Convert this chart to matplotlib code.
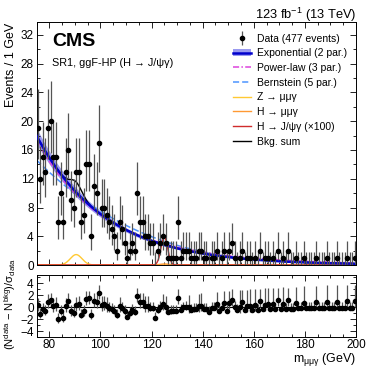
import numpy as np
import matplotlib
matplotlib.use("Agg")
import matplotlib.pyplot as plt
from matplotlib.lines import Line2D
from matplotlib.patches import Patch
from matplotlib.legend_handler import HandlerTuple
from matplotlib.ticker import MultipleLocator
from math import comb

plt.rcParams["font.family"] = ["Liberation Sans", "DejaVu Sans"]
plt.rcParams["mathtext.fontset"] = "custom"
plt.rcParams["mathtext.rm"] = "Liberation Sans"
plt.rcParams["mathtext.it"] = "Liberation Sans:italic"
plt.rcParams["mathtext.default"] = "regular"

# 1 GeV bins, 75-200 GeV
bin_edges = np.arange(75, 201, 1)
counts = [
    19, 12, 15, 13, 19, 20, 15, 15, 6, 10, 6, 13, 16, 9, 8, 13, 13, 6, 7, 14,
    14, 4, 11, 10, 17, 8, 8, 7, 6, 5, 4, 2, 6, 5, 3, 1, 2, 3, 2, 10,
    6, 6, 4, 4, 3, 3, 0, 2, 3, 4, 3, 1, 1, 1, 1, 6, 1, 2, 2, 2,
    1, 1, 1, 2, 2, 1, 1, 0, 1, 1, 2, 0, 1, 2, 0, 2, 3, 1, 0, 1,
    2, 0, 1, 1, 0, 1, 0, 2, 0, 1, 1, 0, 1, 0, 2, 0, 1, 0, 2, 0,
    0, 1, 0, 0, 1, 0, 0, 0, 0, 1, 0, 0, 0, 1, 0, 0, 0, 1, 0, 0,
    0, 1, 0, 0, 1,
]

# fitted shapes (parameters)
exp_norm, exp_slope = 18.0, 0.0372           # Exponential (2 par.)
exp_band_frac = 0.06
pow_norm, pow_shift, pow_index = 17.4, -300.0, 14.18   # Power-law (3 par.)
bern_coef = [14.6, 3.58, 0.29, 0.44, 0.2]    # Bernstein (5 par.)
z_peak = (90.5, 2.3, 1.45)                   # mean, sigma, height
h_mumug_peak = (125.0, 1.8, 0.15)
h_jpsig_peak = (125.0, 1.3, 3.9)             # x100

C_BAND = "#9a9af0"
C_EXP = "#0000cc"
C_POW = "#dd44dd"
C_BERN = "#4d94ff"
C_Z = "#ffc933"
C_HMM = "#ff9933"
C_HJ = "#d02c2c"
C_ERR = "#555555"


def expo(m):
    return exp_norm * np.exp(-exp_slope * (m - 75))


def powerlaw(m):
    return pow_norm * ((m - pow_shift) / (75 - pow_shift)) ** (-pow_index)


def bernstein(m):
    t = (m - 75) / 125.0
    n = len(bern_coef) - 1
    return sum(c * comb(n, i) * t**i * (1 - t)**(n - i) for i, c in enumerate(bern_coef))


def gauss(m, p):
    mu, s, h = p
    return h * np.exp(-0.5 * ((m - mu) / s) ** 2)


def chi2_quant(k, z):
    # Wilson-Hilferty approximation
    k = np.asarray(k, float)
    return k * (1 - 2 / (9 * k) + z * np.sqrt(2 / (9 * k))) ** 3


def poisson_err(n):
    n = np.asarray(n, float)
    up = 0.5 * chi2_quant(2 * n + 2, 1.0) - n
    lo = np.where(n > 0, n - 0.5 * chi2_quant(np.maximum(2 * n, 1e-9), -1.0), 0.0)
    return lo, up


counts = np.array(counts, float)
centers = 0.5 * (bin_edges[:-1] + bin_edges[1:])
err_lo, err_up = poisson_err(counts)

m = np.linspace(75, 200, 800)
f_exp = expo(m)
bkg_sum = f_exp + gauss(m, z_peak) + gauss(m, h_mumug_peak)

fig = plt.figure(figsize=(3.74, 3.74), dpi=100)
ax = fig.add_axes([0.0976, 0.2914, 0.8543, 0.6497])
rax = fig.add_axes([0.0976, 0.0989, 0.8543, 0.1658])

ax.fill_between(m, f_exp * (1 - exp_band_frac), f_exp * (1 + exp_band_frac),
                color=C_BAND, lw=0, zorder=1)
ax.plot(m, bernstein(m), color=C_BERN, lw=1.1, ls=(0, (4, 2)), zorder=2)
ax.plot(m, powerlaw(m), color=C_POW, lw=1.1, ls=(0, (4, 1.5, 1, 1.5)), zorder=2)
ax.plot(m, bkg_sum, color="black", lw=1.0, zorder=2)
ax.plot(m, f_exp, color=C_EXP, lw=1.8, zorder=3)
ax.plot(m, gauss(m, z_peak), color=C_Z, lw=1.0, zorder=2)
ax.plot(m, gauss(m, h_mumug_peak), color=C_HMM, lw=1.0, zorder=2)
ax.plot(m, gauss(m, h_jpsig_peak), color=C_HJ, lw=1.0, zorder=2)

ax.errorbar(centers, counts, yerr=[err_lo, err_up], fmt="none",
            ecolor=C_ERR, elinewidth=0.9, zorder=4)
nz = counts > 0
ax.plot(centers[nz], counts[nz], "o", ms=3, color="black", zorder=5)

ax.set_xlim(75, 200)
ax.set_ylim(0, 33.8)
ax.xaxis.set_major_locator(MultipleLocator(20))
ax.xaxis.set_minor_locator(MultipleLocator(5))
ax.yaxis.set_major_locator(MultipleLocator(4))
ax.yaxis.set_minor_locator(MultipleLocator(2))
ax.tick_params(labelbottom=False)

# pull panel
bkg_c = expo(centers) + gauss(centers, z_peak) + gauss(centers, h_mumug_peak)
sigma = np.where(counts >= bkg_c, np.where(err_lo > 0, err_lo, err_up), err_up)
pull = (counts - bkg_c) / sigma
rax.axhline(0, color="black", lw=0.8)
rax.errorbar(centers, pull, yerr=[err_lo / sigma, err_up / sigma], fmt="o",
             ms=3, color="black", ecolor=C_ERR, elinewidth=0.9)
rax.set_xlim(75, 200)
rax.set_ylim(-5.0, 5.4)
rax.xaxis.set_major_locator(MultipleLocator(20))
rax.xaxis.set_minor_locator(MultipleLocator(5))
rax.yaxis.set_major_locator(MultipleLocator(2))
rax.yaxis.set_minor_locator(MultipleLocator(1))

for a in (ax, rax):
    a.tick_params(which="both", direction="in", top=True, right=True, labelsize=8.5)
    a.tick_params(which="major", length=4.5, width=0.6)
    a.tick_params(which="minor", length=2.3, width=0.6)
    for s in a.spines.values():
        s.set_linewidth(0.7)
rax.tick_params(axis="x", pad=1.5)
ax.tick_params(axis="y", pad=2)
rax.tick_params(axis="y", pad=2)

data_handle = (Line2D([], [], marker="|", ms=10, mew=0.9, color=C_ERR, ls="none"),
               Line2D([], [], marker="o", ms=3, color="black", ls="none"))
handles = [
    data_handle,
    (Patch(facecolor=C_BAND, edgecolor="none"), Line2D([], [], color=C_EXP, lw=1.8)),
    Line2D([], [], color=C_POW, lw=1.1, ls=(0, (4, 1.5, 1, 1.5))),
    Line2D([], [], color=C_BERN, lw=1.1, ls=(0, (4, 2))),
    Line2D([], [], color=C_Z, lw=1.0),
    Line2D([], [], color=C_HMM, lw=1.0),
    Line2D([], [], color=C_HJ, lw=1.0),
    Line2D([], [], color="black", lw=1.0),
]
labels = [
    "Data (477 events)",
    "Exponential (2 par.)",
    "Power-law (3 par.)",
    "Bernstein (5 par.)",
    "Z → μμγ",
    "H → μμγ",
    "H → J/ψγ (×100)",
    "Bkg. sum",
]
ax.legend(handles, labels, loc="upper left", bbox_to_anchor=(0.615, 0.952),
          frameon=False, fontsize=7.5, handlelength=1.7, handletextpad=0.6,
          labelspacing=0.45, borderaxespad=0, borderpad=0,
          handler_map={tuple: HandlerTuple(ndivide=1, pad=0)})

ax.text(0.0485, 0.955, "CMS", transform=ax.transAxes, fontsize=14,
        fontweight="bold", ha="left", va="top")
ax.text(0.0485, 0.831, "SR1, ggF-HP (H → J/ψγ)", transform=ax.transAxes,
        fontsize=7.8, ha="left", va="center")
fig.text(0.952, 1 - 15 / 374, "123 fb$^{-1}$ (13 TeV)", fontsize=9.3,
         ha="right", va="center")
fig.text(11 / 374, 1 - 23 / 374, "Events / 1 GeV", rotation=90, fontsize=9,
         ha="center", va="top")
fig.text(10 / 374, 1 - 304 / 374, "(N$^{data}$ − N$^{bkg}$)/σ$_{data}$",
         rotation=90, fontsize=8, ha="center", va="center")
fig.text(0.952, 1 - 360 / 374, "m$_{μμγ}$ (GeV)", fontsize=9, ha="right", va="center")

fig.savefig("out.png", dpi=100)
